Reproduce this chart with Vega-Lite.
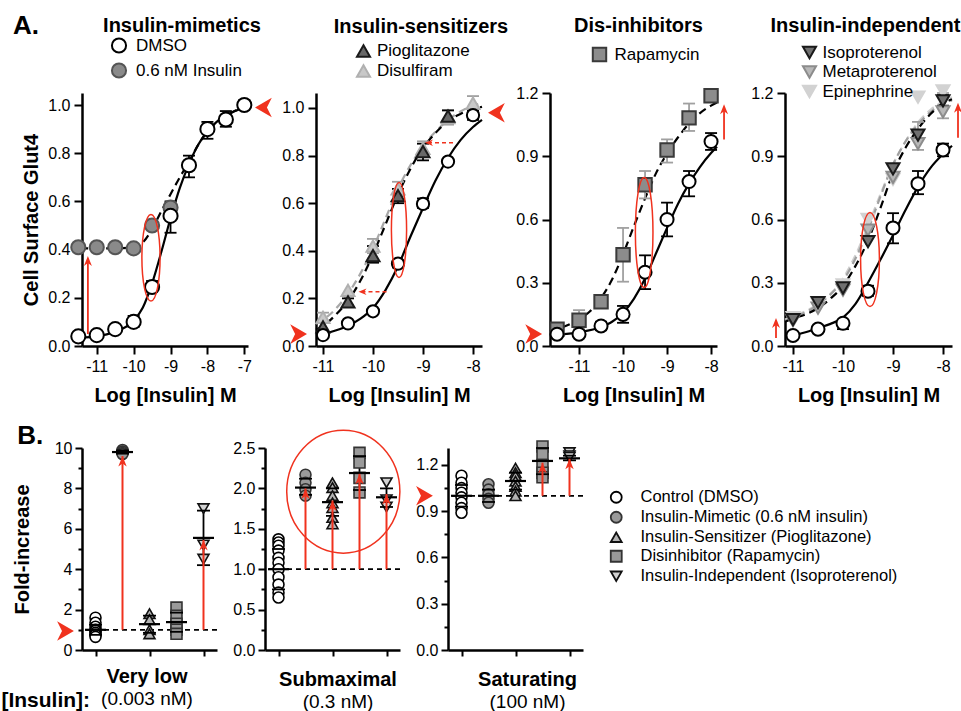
{
"$schema":"https://vega.github.io/schema/vega-lite/v6.json",
"background":"white",
"padding":{"left":1,"top":12,"right":0,"bottom":0},
"config":{
 "font":"Liberation Sans",
 "view":{"stroke":null},
 "axis":{"domainColor":"black","domainWidth":2.5,"tickColor":"black","tickWidth":2,"tickSize":8,"labelColor":"black","labelFont":"Liberation Sans","labelFontSize":16,"labelPadding":4,"titleFont":"Liberation Sans","titleFontSize":20,"titleFontWeight":"bold","titleColor":"black","grid":false},
 "title":{"font":"Liberation Sans","fontSize":20,"fontWeight":"bold","color":"black","subtitleFont":"Liberation Sans","subtitleFontSize":19,"subtitleColor":"black","subtitleFontWeight":"normal"},
 "legend":{"labelFont":"Liberation Sans","labelColor":"black","labelLimit":400}
},
"datasets":{
 "pts":[
  {"p":"A1","s":"0.6 nM Insulin","x":-11.5,"y":0.41},
  {"p":"A1","s":"0.6 nM Insulin","x":-11,"y":0.41},
  {"p":"A1","s":"0.6 nM Insulin","x":-10.5,"y":0.41},
  {"p":"A1","s":"0.6 nM Insulin","x":-10,"y":0.405},
  {"p":"A1","s":"0.6 nM Insulin","x":-9.5,"y":0.5},
  {"p":"A1","s":"0.6 nM Insulin","x":-9,"y":0.575},
  {"p":"A1","s":"DMSO","x":-11.5,"y":0.04},
  {"p":"A1","s":"DMSO","x":-11,"y":0.045},
  {"p":"A1","s":"DMSO","x":-10.5,"y":0.07},
  {"p":"A1","s":"DMSO","x":-10,"y":0.1,"lo":0.08,"hi":0.125},
  {"p":"A1","s":"DMSO","x":-9.5,"y":0.245,"lo":0.23,"hi":0.27},
  {"p":"A1","s":"DMSO","x":-9,"y":0.54,"lo":0.47,"hi":0.6},
  {"p":"A1","s":"DMSO","x":-8.5,"y":0.75,"lo":0.7,"hi":0.79},
  {"p":"A1","s":"DMSO","x":-8,"y":0.9,"lo":0.86,"hi":0.93},
  {"p":"A1","s":"DMSO","x":-7.5,"y":0.94,"lo":0.91,"hi":0.975},
  {"p":"A1","s":"DMSO","x":-7,"y":1.0,"lo":0.99,"hi":1.02},
  {"p":"A2","s":"Disulfiram","x":-11,"y":0.12,"lo":0.1,"hi":0.14},
  {"p":"A2","s":"Disulfiram","x":-10.5,"y":0.234},
  {"p":"A2","s":"Disulfiram","x":-10,"y":0.42,"lo":0.39,"hi":0.45},
  {"p":"A2","s":"Disulfiram","x":-9.5,"y":0.66,"lo":0.63,"hi":0.69},
  {"p":"A2","s":"Disulfiram","x":-9,"y":0.83,"lo":0.8,"hi":0.86},
  {"p":"A2","s":"Disulfiram","x":-8.5,"y":0.96,"lo":0.93,"hi":0.99},
  {"p":"A2","s":"Disulfiram","x":-8,"y":1.02,"lo":0.99,"hi":1.05},
  {"p":"A2","s":"Pioglitazone","x":-11,"y":0.08,"lo":0.06,"hi":0.1},
  {"p":"A2","s":"Pioglitazone","x":-10.5,"y":0.185,"lo":0.17,"hi":0.2},
  {"p":"A2","s":"Pioglitazone","x":-10,"y":0.38,"lo":0.35,"hi":0.42},
  {"p":"A2","s":"Pioglitazone","x":-9.5,"y":0.632,"lo":0.6,"hi":0.66},
  {"p":"A2","s":"Pioglitazone","x":-9,"y":0.817,"lo":0.78,"hi":0.85},
  {"p":"A2","s":"Pioglitazone","x":-8.5,"y":0.966,"lo":0.94,"hi":0.99},
  {"p":"A2","s":"DMSO","x":-11,"y":0.046},
  {"p":"A2","s":"DMSO","x":-10.5,"y":0.095},
  {"p":"A2","s":"DMSO","x":-10,"y":0.146},
  {"p":"A2","s":"DMSO","x":-9.5,"y":0.346,"lo":0.33,"hi":0.36},
  {"p":"A2","s":"DMSO","x":-9,"y":0.597,"lo":0.58,"hi":0.62},
  {"p":"A2","s":"DMSO","x":-8.5,"y":0.775},
  {"p":"A2","s":"DMSO","x":-8,"y":0.97,"lo":0.95,"hi":0.99},
  {"p":"A3","s":"Rapamycin","x":-11.5,"y":0.08,"lo":0.07,"hi":0.09},
  {"p":"A3","s":"Rapamycin","x":-11,"y":0.122,"lo":0.08,"hi":0.17},
  {"p":"A3","s":"Rapamycin","x":-10.5,"y":0.21,"lo":0.18,"hi":0.24},
  {"p":"A3","s":"Rapamycin","x":-10,"y":0.433,"lo":0.305,"hi":0.56},
  {"p":"A3","s":"Rapamycin","x":-9.5,"y":0.765,"lo":0.7,"hi":0.83},
  {"p":"A3","s":"Rapamycin","x":-9,"y":0.93,"lo":0.87,"hi":0.98},
  {"p":"A3","s":"Rapamycin","x":-8.5,"y":1.082,"lo":1.02,"hi":1.15},
  {"p":"A3","s":"Rapamycin","x":-8,"y":1.187,"lo":1.17,"hi":1.2},
  {"p":"A3","s":"DMSO","x":-11.5,"y":0.056},
  {"p":"A3","s":"DMSO","x":-11,"y":0.056},
  {"p":"A3","s":"DMSO","x":-10.5,"y":0.095,"lo":0.075,"hi":0.115},
  {"p":"A3","s":"DMSO","x":-10,"y":0.15,"lo":0.11,"hi":0.19},
  {"p":"A3","s":"DMSO","x":-9.5,"y":0.35,"lo":0.27,"hi":0.43},
  {"p":"A3","s":"DMSO","x":-9,"y":0.6,"lo":0.52,"hi":0.68},
  {"p":"A3","s":"DMSO","x":-8.5,"y":0.78,"lo":0.71,"hi":0.83},
  {"p":"A3","s":"DMSO","x":-8,"y":0.97,"lo":0.93,"hi":1.01},
  {"p":"A4","s":"Epinephrine","x":-11,"y":0.135},
  {"p":"A4","s":"Epinephrine","x":-10.5,"y":0.2},
  {"p":"A4","s":"Epinephrine","x":-10,"y":0.29},
  {"p":"A4","s":"Epinephrine","x":-9.5,"y":0.6},
  {"p":"A4","s":"Epinephrine","x":-9,"y":0.79},
  {"p":"A4","s":"Epinephrine","x":-8.5,"y":1.18},
  {"p":"A4","s":"Epinephrine","x":-8,"y":1.21,"lo":1.19,"hi":1.23},
  {"p":"A4","s":"Metaproterenol","x":-11,"y":0.12},
  {"p":"A4","s":"Metaproterenol","x":-10.5,"y":0.18},
  {"p":"A4","s":"Metaproterenol","x":-10,"y":0.265},
  {"p":"A4","s":"Metaproterenol","x":-9.5,"y":0.55},
  {"p":"A4","s":"Metaproterenol","x":-9,"y":0.8},
  {"p":"A4","s":"Metaproterenol","x":-8.5,"y":0.96,"lo":0.93,"hi":1.063},
  {"p":"A4","s":"Metaproterenol","x":-8,"y":1.11,"lo":1.08,"hi":1.2},
  {"p":"A4","s":"Isoproterenol","x":-11,"y":0.125},
  {"p":"A4","s":"Isoproterenol","x":-10.5,"y":0.206},
  {"p":"A4","s":"Isoproterenol","x":-10,"y":0.275},
  {"p":"A4","s":"Isoproterenol","x":-9.5,"y":0.495},
  {"p":"A4","s":"Isoproterenol","x":-9,"y":0.84},
  {"p":"A4","s":"Isoproterenol","x":-8.5,"y":1.0},
  {"p":"A4","s":"Isoproterenol","x":-8,"y":1.163,"lo":1.14,"hi":1.19},
  {"p":"A4","s":"DMSO","x":-11,"y":0.05},
  {"p":"A4","s":"DMSO","x":-10.5,"y":0.08},
  {"p":"A4","s":"DMSO","x":-10,"y":0.108,"lo":0.08,"hi":0.12},
  {"p":"A4","s":"DMSO","x":-9.5,"y":0.26,"lo":0.238,"hi":0.286},
  {"p":"A4","s":"DMSO","x":-9,"y":0.56,"lo":0.487,"hi":0.63},
  {"p":"A4","s":"DMSO","x":-8.5,"y":0.77,"lo":0.72,"hi":0.83},
  {"p":"A4","s":"DMSO","x":-8,"y":0.93,"lo":0.9,"hi":0.96}
 ],
 "curves":[
  {"p":"A1","s":"DMSO","x":-11.45,"y":0.035},{"p":"A1","s":"DMSO","x":-11,"y":0.04},{"p":"A1","s":"DMSO","x":-10.5,"y":0.06},{"p":"A1","s":"DMSO","x":-10,"y":0.105},{"p":"A1","s":"DMSO","x":-9.75,"y":0.16},{"p":"A1","s":"DMSO","x":-9.5,"y":0.26},{"p":"A1","s":"DMSO","x":-9.25,"y":0.39},{"p":"A1","s":"DMSO","x":-9,"y":0.53},{"p":"A1","s":"DMSO","x":-8.75,"y":0.655},{"p":"A1","s":"DMSO","x":-8.5,"y":0.755},{"p":"A1","s":"DMSO","x":-8.25,"y":0.835},{"p":"A1","s":"DMSO","x":-8,"y":0.89},{"p":"A1","s":"DMSO","x":-7.75,"y":0.93},{"p":"A1","s":"DMSO","x":-7.5,"y":0.955},{"p":"A1","s":"DMSO","x":-7.25,"y":0.975},{"p":"A1","s":"DMSO","x":-7,"y":0.99},{"p":"A1","s":"DMSO","x":-6.9,"y":0.993},
  {"p":"A1","s":"0.6 nM Insulin","x":-11.45,"y":0.405},{"p":"A1","s":"0.6 nM Insulin","x":-11,"y":0.405},{"p":"A1","s":"0.6 nM Insulin","x":-10.5,"y":0.405},{"p":"A1","s":"0.6 nM Insulin","x":-10,"y":0.41},{"p":"A1","s":"0.6 nM Insulin","x":-9.75,"y":0.43},{"p":"A1","s":"0.6 nM Insulin","x":-9.5,"y":0.485},{"p":"A1","s":"0.6 nM Insulin","x":-9.25,"y":0.56},{"p":"A1","s":"0.6 nM Insulin","x":-9,"y":0.63},{"p":"A1","s":"0.6 nM Insulin","x":-8.75,"y":0.7},{"p":"A1","s":"0.6 nM Insulin","x":-8.5,"y":0.765},{"p":"A1","s":"0.6 nM Insulin","x":-8.25,"y":0.835},{"p":"A1","s":"0.6 nM Insulin","x":-8,"y":0.89},{"p":"A1","s":"0.6 nM Insulin","x":-7.5,"y":0.955},{"p":"A1","s":"0.6 nM Insulin","x":-7,"y":0.99},{"p":"A1","s":"0.6 nM Insulin","x":-6.9,"y":0.993},
  {"p":"A2","s":"Disulfiram","x":-11.14,"y":0.093},{"p":"A2","s":"Disulfiram","x":-11,"y":0.11},{"p":"A2","s":"Disulfiram","x":-10.75,"y":0.155},{"p":"A2","s":"Disulfiram","x":-10.5,"y":0.22},{"p":"A2","s":"Disulfiram","x":-10.25,"y":0.305},{"p":"A2","s":"Disulfiram","x":-10,"y":0.41},{"p":"A2","s":"Disulfiram","x":-9.75,"y":0.535},{"p":"A2","s":"Disulfiram","x":-9.5,"y":0.66},{"p":"A2","s":"Disulfiram","x":-9.25,"y":0.76},{"p":"A2","s":"Disulfiram","x":-9,"y":0.84},{"p":"A2","s":"Disulfiram","x":-8.75,"y":0.9},{"p":"A2","s":"Disulfiram","x":-8.5,"y":0.95},{"p":"A2","s":"Disulfiram","x":-8.25,"y":0.985},{"p":"A2","s":"Disulfiram","x":-8,"y":1.01},{"p":"A2","s":"Disulfiram","x":-7.82,"y":1.02},
  {"p":"A2","s":"Pioglitazone","x":-11.14,"y":0.068},{"p":"A2","s":"Pioglitazone","x":-11,"y":0.084},{"p":"A2","s":"Pioglitazone","x":-10.75,"y":0.13},{"p":"A2","s":"Pioglitazone","x":-10.5,"y":0.19},{"p":"A2","s":"Pioglitazone","x":-10.25,"y":0.275},{"p":"A2","s":"Pioglitazone","x":-10,"y":0.385},{"p":"A2","s":"Pioglitazone","x":-9.75,"y":0.51},{"p":"A2","s":"Pioglitazone","x":-9.5,"y":0.637},{"p":"A2","s":"Pioglitazone","x":-9.25,"y":0.745},{"p":"A2","s":"Pioglitazone","x":-9,"y":0.833},{"p":"A2","s":"Pioglitazone","x":-8.75,"y":0.895},{"p":"A2","s":"Pioglitazone","x":-8.5,"y":0.945},{"p":"A2","s":"Pioglitazone","x":-8.25,"y":0.975},{"p":"A2","s":"Pioglitazone","x":-8,"y":0.995},{"p":"A2","s":"Pioglitazone","x":-7.82,"y":1.005},
  {"p":"A2","s":"DMSO","x":-11.14,"y":0.045},{"p":"A2","s":"DMSO","x":-11,"y":0.05},{"p":"A2","s":"DMSO","x":-10.75,"y":0.065},{"p":"A2","s":"DMSO","x":-10.5,"y":0.085},{"p":"A2","s":"DMSO","x":-10.25,"y":0.115},{"p":"A2","s":"DMSO","x":-10,"y":0.16},{"p":"A2","s":"DMSO","x":-9.75,"y":0.235},{"p":"A2","s":"DMSO","x":-9.5,"y":0.335},{"p":"A2","s":"DMSO","x":-9.25,"y":0.46},{"p":"A2","s":"DMSO","x":-9,"y":0.58},{"p":"A2","s":"DMSO","x":-8.75,"y":0.695},{"p":"A2","s":"DMSO","x":-8.5,"y":0.79},{"p":"A2","s":"DMSO","x":-8.25,"y":0.865},{"p":"A2","s":"DMSO","x":-8,"y":0.92},{"p":"A2","s":"DMSO","x":-7.82,"y":0.95},
  {"p":"A3","s":"DMSO","x":-11.66,"y":0.05},{"p":"A3","s":"DMSO","x":-11.5,"y":0.053},{"p":"A3","s":"DMSO","x":-11,"y":0.065},{"p":"A3","s":"DMSO","x":-10.5,"y":0.09},{"p":"A3","s":"DMSO","x":-10.25,"y":0.115},{"p":"A3","s":"DMSO","x":-10,"y":0.157},{"p":"A3","s":"DMSO","x":-9.75,"y":0.225},{"p":"A3","s":"DMSO","x":-9.5,"y":0.32},{"p":"A3","s":"DMSO","x":-9.25,"y":0.44},{"p":"A3","s":"DMSO","x":-9,"y":0.56},{"p":"A3","s":"DMSO","x":-8.75,"y":0.675},{"p":"A3","s":"DMSO","x":-8.5,"y":0.77},{"p":"A3","s":"DMSO","x":-8.25,"y":0.85},{"p":"A3","s":"DMSO","x":-8,"y":0.915},{"p":"A3","s":"DMSO","x":-7.865,"y":0.945},
  {"p":"A3","s":"Rapamycin","x":-11.66,"y":0.07},{"p":"A3","s":"Rapamycin","x":-11.5,"y":0.08},{"p":"A3","s":"Rapamycin","x":-11,"y":0.127},{"p":"A3","s":"Rapamycin","x":-10.75,"y":0.165},{"p":"A3","s":"Rapamycin","x":-10.5,"y":0.228},{"p":"A3","s":"Rapamycin","x":-10.25,"y":0.315},{"p":"A3","s":"Rapamycin","x":-10,"y":0.435},{"p":"A3","s":"Rapamycin","x":-9.75,"y":0.57},{"p":"A3","s":"Rapamycin","x":-9.5,"y":0.7},{"p":"A3","s":"Rapamycin","x":-9.25,"y":0.82},{"p":"A3","s":"Rapamycin","x":-9,"y":0.913},{"p":"A3","s":"Rapamycin","x":-8.75,"y":0.99},{"p":"A3","s":"Rapamycin","x":-8.5,"y":1.055},{"p":"A3","s":"Rapamycin","x":-8.25,"y":1.105},{"p":"A3","s":"Rapamycin","x":-8,"y":1.14},{"p":"A3","s":"Rapamycin","x":-7.865,"y":1.155},
  {"p":"A4","s":"Epinephrine","x":-11.16,"y":0.125},{"p":"A4","s":"Epinephrine","x":-11,"y":0.14},{"p":"A4","s":"Epinephrine","x":-10.5,"y":0.2},{"p":"A4","s":"Epinephrine","x":-10,"y":0.32},{"p":"A4","s":"Epinephrine","x":-9.75,"y":0.43},{"p":"A4","s":"Epinephrine","x":-9.5,"y":0.57},{"p":"A4","s":"Epinephrine","x":-9.25,"y":0.72},{"p":"A4","s":"Epinephrine","x":-9,"y":0.86},{"p":"A4","s":"Epinephrine","x":-8.75,"y":0.97},{"p":"A4","s":"Epinephrine","x":-8.5,"y":1.06},{"p":"A4","s":"Epinephrine","x":-8.25,"y":1.12},{"p":"A4","s":"Epinephrine","x":-8,"y":1.16},{"p":"A4","s":"Epinephrine","x":-7.82,"y":1.18},
  {"p":"A4","s":"Metaproterenol","x":-11.16,"y":0.12},{"p":"A4","s":"Metaproterenol","x":-11,"y":0.135},{"p":"A4","s":"Metaproterenol","x":-10.75,"y":0.16},{"p":"A4","s":"Metaproterenol","x":-10.5,"y":0.195},{"p":"A4","s":"Metaproterenol","x":-10.25,"y":0.245},{"p":"A4","s":"Metaproterenol","x":-10,"y":0.31},{"p":"A4","s":"Metaproterenol","x":-9.75,"y":0.415},{"p":"A4","s":"Metaproterenol","x":-9.5,"y":0.55},{"p":"A4","s":"Metaproterenol","x":-9.25,"y":0.71},{"p":"A4","s":"Metaproterenol","x":-9,"y":0.86},{"p":"A4","s":"Metaproterenol","x":-8.75,"y":0.97},{"p":"A4","s":"Metaproterenol","x":-8.5,"y":1.05},{"p":"A4","s":"Metaproterenol","x":-8.25,"y":1.11},{"p":"A4","s":"Metaproterenol","x":-8,"y":1.15},{"p":"A4","s":"Metaproterenol","x":-7.82,"y":1.165},
  {"p":"A4","s":"Isoproterenol","x":-11.16,"y":0.115},{"p":"A4","s":"Isoproterenol","x":-11,"y":0.13},{"p":"A4","s":"Isoproterenol","x":-10.75,"y":0.15},{"p":"A4","s":"Isoproterenol","x":-10.5,"y":0.18},{"p":"A4","s":"Isoproterenol","x":-10.25,"y":0.225},{"p":"A4","s":"Isoproterenol","x":-10,"y":0.285},{"p":"A4","s":"Isoproterenol","x":-9.75,"y":0.38},{"p":"A4","s":"Isoproterenol","x":-9.5,"y":0.5},{"p":"A4","s":"Isoproterenol","x":-9.25,"y":0.655},{"p":"A4","s":"Isoproterenol","x":-9,"y":0.82},{"p":"A4","s":"Isoproterenol","x":-8.75,"y":0.94},{"p":"A4","s":"Isoproterenol","x":-8.5,"y":1.03},{"p":"A4","s":"Isoproterenol","x":-8.25,"y":1.1},{"p":"A4","s":"Isoproterenol","x":-8,"y":1.15},{"p":"A4","s":"Isoproterenol","x":-7.82,"y":1.17},
  {"p":"A4","s":"DMSO","x":-11.16,"y":0.045},{"p":"A4","s":"DMSO","x":-11,"y":0.05},{"p":"A4","s":"DMSO","x":-10.75,"y":0.065},{"p":"A4","s":"DMSO","x":-10.5,"y":0.085},{"p":"A4","s":"DMSO","x":-10.25,"y":0.105},{"p":"A4","s":"DMSO","x":-10,"y":0.135},{"p":"A4","s":"DMSO","x":-9.75,"y":0.2},{"p":"A4","s":"DMSO","x":-9.5,"y":0.3},{"p":"A4","s":"DMSO","x":-9.25,"y":0.41},{"p":"A4","s":"DMSO","x":-9,"y":0.525},{"p":"A4","s":"DMSO","x":-8.75,"y":0.645},{"p":"A4","s":"DMSO","x":-8.5,"y":0.755},{"p":"A4","s":"DMSO","x":-8.25,"y":0.845},{"p":"A4","s":"DMSO","x":-8,"y":0.91},{"p":"A4","s":"DMSO","x":-7.82,"y":0.95}
 ],
 "bpts":[
  {"p":"B1","x":1,"grp":"Control (DMSO)","y":1.6},{"p":"B1","x":1,"grp":"Control (DMSO)","y":1.35},{"p":"B1","x":1,"grp":"Control (DMSO)","y":1.15},{"p":"B1","x":1,"grp":"Control (DMSO)","y":1.0},{"p":"B1","x":1,"grp":"Control (DMSO)","y":0.95},{"p":"B1","x":1,"grp":"Control (DMSO)","y":0.85},{"p":"B1","x":1,"grp":"Control (DMSO)","y":0.75},{"p":"B1","x":1,"grp":"Control (DMSO)","y":0.65},
  {"p":"B1","x":2,"grp":"Insulin-Mimetic  (0.6 nM  insulin)","y":9.9},{"p":"B1","x":2,"grp":"Insulin-Mimetic  (0.6 nM  insulin)","y":9.82},{"p":"B1","x":2,"grp":"Insulin-Mimetic  (0.6 nM  insulin)","y":9.75},{"p":"B1","x":2,"grp":"Insulin-Mimetic  (0.6 nM  insulin)","y":9.7},
  {"p":"B1","x":3,"grp":"Insulin-Sensitizer (Pioglitazone)","y":1.8},{"p":"B1","x":3,"grp":"Insulin-Sensitizer (Pioglitazone)","y":1.5},{"p":"B1","x":3,"grp":"Insulin-Sensitizer (Pioglitazone)","y":1.0},{"p":"B1","x":3,"grp":"Insulin-Sensitizer (Pioglitazone)","y":0.8},
  {"p":"B1","x":4,"grp":"Disinhibitor (Rapamycin)","y":2.1},{"p":"B1","x":4,"grp":"Disinhibitor (Rapamycin)","y":1.7},{"p":"B1","x":4,"grp":"Disinhibitor (Rapamycin)","y":1.3},{"p":"B1","x":4,"grp":"Disinhibitor (Rapamycin)","y":1.0},{"p":"B1","x":4,"grp":"Disinhibitor (Rapamycin)","y":0.8},
  {"p":"B1","x":5,"grp":"Insulin-Independent (Isoproterenol)","y":7.0},{"p":"B1","x":5,"grp":"Insulin-Independent (Isoproterenol)","y":5.2},{"p":"B1","x":5,"grp":"Insulin-Independent (Isoproterenol)","y":4.5},
  {"p":"B2","x":1,"grp":"Control (DMSO)","y":1.37},{"p":"B2","x":1,"grp":"Control (DMSO)","y":1.33},{"p":"B2","x":1,"grp":"Control (DMSO)","y":1.29},{"p":"B2","x":1,"grp":"Control (DMSO)","y":1.23},{"p":"B2","x":1,"grp":"Control (DMSO)","y":1.14},{"p":"B2","x":1,"grp":"Control (DMSO)","y":1.08},{"p":"B2","x":1,"grp":"Control (DMSO)","y":1.0},{"p":"B2","x":1,"grp":"Control (DMSO)","y":0.9},{"p":"B2","x":1,"grp":"Control (DMSO)","y":0.81},{"p":"B2","x":1,"grp":"Control (DMSO)","y":0.71},{"p":"B2","x":1,"grp":"Control (DMSO)","y":0.65},
  {"p":"B2","x":2,"grp":"Insulin-Mimetic  (0.6 nM  insulin)","y":2.17},{"p":"B2","x":2,"grp":"Insulin-Mimetic  (0.6 nM  insulin)","y":2.07},{"p":"B2","x":2,"grp":"Insulin-Mimetic  (0.6 nM  insulin)","y":1.99},{"p":"B2","x":2,"grp":"Insulin-Mimetic  (0.6 nM  insulin)","y":1.91},
  {"p":"B2","x":3,"grp":"Insulin-Sensitizer (Pioglitazone)","y":2.07},{"p":"B2","x":3,"grp":"Insulin-Sensitizer (Pioglitazone)","y":2.01},{"p":"B2","x":3,"grp":"Insulin-Sensitizer (Pioglitazone)","y":1.91},{"p":"B2","x":3,"grp":"Insulin-Sensitizer (Pioglitazone)","y":1.82},{"p":"B2","x":3,"grp":"Insulin-Sensitizer (Pioglitazone)","y":1.76},{"p":"B2","x":3,"grp":"Insulin-Sensitizer (Pioglitazone)","y":1.64},{"p":"B2","x":3,"grp":"Insulin-Sensitizer (Pioglitazone)","y":1.56},
  {"p":"B2","x":4,"grp":"Disinhibitor (Rapamycin)","y":2.44},{"p":"B2","x":4,"grp":"Disinhibitor (Rapamycin)","y":2.32},{"p":"B2","x":4,"grp":"Disinhibitor (Rapamycin)","y":2.13},{"p":"B2","x":4,"grp":"Disinhibitor (Rapamycin)","y":1.95},
  {"p":"B2","x":5,"grp":"Insulin-Independent (Isoproterenol)","y":2.07},{"p":"B2","x":5,"grp":"Insulin-Independent (Isoproterenol)","y":1.86},{"p":"B2","x":5,"grp":"Insulin-Independent (Isoproterenol)","y":1.77},
  {"p":"B3","x":1,"grp":"Control (DMSO)","y":1.13},{"p":"B3","x":1,"grp":"Control (DMSO)","y":1.085},{"p":"B3","x":1,"grp":"Control (DMSO)","y":1.05},{"p":"B3","x":1,"grp":"Control (DMSO)","y":1.02},{"p":"B3","x":1,"grp":"Control (DMSO)","y":0.99},{"p":"B3","x":1,"grp":"Control (DMSO)","y":0.955},{"p":"B3","x":1,"grp":"Control (DMSO)","y":0.92},{"p":"B3","x":1,"grp":"Control (DMSO)","y":0.89},
  {"p":"B3","x":2,"grp":"Insulin-Mimetic  (0.6 nM  insulin)","y":1.075},{"p":"B3","x":2,"grp":"Insulin-Mimetic  (0.6 nM  insulin)","y":1.04},{"p":"B3","x":2,"grp":"Insulin-Mimetic  (0.6 nM  insulin)","y":1.01},{"p":"B3","x":2,"grp":"Insulin-Mimetic  (0.6 nM  insulin)","y":0.98},{"p":"B3","x":2,"grp":"Insulin-Mimetic  (0.6 nM  insulin)","y":0.955},
  {"p":"B3","x":3,"grp":"Insulin-Sensitizer (Pioglitazone)","y":1.18},{"p":"B3","x":3,"grp":"Insulin-Sensitizer (Pioglitazone)","y":1.15},{"p":"B3","x":3,"grp":"Insulin-Sensitizer (Pioglitazone)","y":1.13},{"p":"B3","x":3,"grp":"Insulin-Sensitizer (Pioglitazone)","y":1.095},{"p":"B3","x":3,"grp":"Insulin-Sensitizer (Pioglitazone)","y":1.06},{"p":"B3","x":3,"grp":"Insulin-Sensitizer (Pioglitazone)","y":1.03},{"p":"B3","x":3,"grp":"Insulin-Sensitizer (Pioglitazone)","y":1.0},
  {"p":"B3","x":4,"grp":"Disinhibitor (Rapamycin)","y":1.32},{"p":"B3","x":4,"grp":"Disinhibitor (Rapamycin)","y":1.27},{"p":"B3","x":4,"grp":"Disinhibitor (Rapamycin)","y":1.2},{"p":"B3","x":4,"grp":"Disinhibitor (Rapamycin)","y":1.15},{"p":"B3","x":4,"grp":"Disinhibitor (Rapamycin)","y":1.12},
  {"p":"B3","x":5,"grp":"Insulin-Independent (Isoproterenol)","y":1.28},{"p":"B3","x":5,"grp":"Insulin-Independent (Isoproterenol)","y":1.26},{"p":"B3","x":5,"grp":"Insulin-Independent (Isoproterenol)","y":1.25}
 ],
 "bsum":[
  {"p":"B1","x":1,"mean":1.0,"lo":0.75,"hi":1.25},{"p":"B1","x":2,"mean":9.8,"lo":9.72,"hi":9.88},{"p":"B1","x":3,"mean":1.28,"lo":0.85,"hi":1.7},{"p":"B1","x":4,"mean":1.38,"lo":0.9,"hi":1.85},{"p":"B1","x":5,"mean":5.55,"lo":4.2,"hi":6.9},
  {"p":"B2","x":1,"mean":1.0,"lo":0.75,"hi":1.25},{"p":"B2","x":2,"mean":2.01,"lo":1.92,"hi":2.12},{"p":"B2","x":3,"mean":1.83,"lo":1.66,"hi":2.0},{"p":"B2","x":4,"mean":2.19,"lo":1.98,"hi":2.4},{"p":"B2","x":5,"mean":1.89,"lo":1.77,"hi":2.0},
  {"p":"B3","x":1,"mean":1.0,"lo":0.93,"hi":1.07},{"p":"B3","x":2,"mean":1.0,"lo":0.96,"hi":1.04},{"p":"B3","x":3,"mean":1.096,"lo":1.04,"hi":1.15},{"p":"B3","x":4,"mean":1.226,"lo":1.14,"hi":1.31},{"p":"B3","x":5,"mean":1.243,"lo":1.23,"hi":1.26}
 ],
 "barrows":[
  {"p":"B1","x":2,"y":1,"y2":9.6},{"p":"B1","x":5,"y":1,"y2":5.45},
  {"p":"B2","x":2,"y":1,"y2":2.0},{"p":"B2","x":3,"y":1,"y2":1.85},{"p":"B2","x":4,"y":1,"y2":2.18},{"p":"B2","x":5,"y":1,"y2":1.93},
  {"p":"B3","x":4,"y":1,"y2":1.215},{"p":"B3","x":5,"y":1,"y2":1.24}
 ]
},
"spacing":355,
"bounds":"flush",
"resolve":{"scale":{"shape":"independent","fill":"independent","stroke":"independent","color":"independent"},"legend":{"shape":"independent","fill":"independent","stroke":"independent","color":"independent"}},
"vconcat":[
{"spacing":68,"bounds":"flush",
 "resolve":{"scale":{"shape":"independent","fill":"independent","stroke":"independent","color":"independent"},"legend":{"shape":"independent","fill":"independent","stroke":"independent","color":"independent"}},
 "hconcat":[
 {"width":166,"height":253,
  "title":{"text":"Insulin-mimetics","frame":"group","dx":17,"offset":-23},
  "encoding":{
   "x":{"field":"x","type":"quantitative","scale":{"domain":[-11.4,-6.9],"nice":false,"zero":false},"axis":{"values":[-11,-10,-9,-8,-7],"labelExpr":"'-' + abs(datum.value)","title":"Log [Insulin] M","titlePadding":11}},
   "y":{"field":"y","type":"quantitative","scale":{"domain":[0,1.05],"nice":false,"zero":false},"axis":{"values":[0,0.2,0.4,0.6,0.8,1],"format":".1f","title":"Cell Surface Glut4","titlePadding":6}}
  },
  "layer":[
   {"data":{"name":"curves"},"transform":[{"filter":"datum.p=='A1' && datum.s!='DMSO'"}],"mark":{"type":"line","color":"black","strokeWidth":2.2,"strokeDash":[8,5],"interpolate":"monotone"},"encoding":{"detail":{"field":"s"}}},
   {"data":{"name":"curves"},"transform":[{"filter":"datum.p=='A1' && datum.s=='DMSO'"}],"mark":{"type":"line","color":"black","strokeWidth":2.2,"interpolate":"monotone"},"encoding":{}},
   {"data":{"name":"pts"},"transform":[{"filter":"datum.p=='A1' && isValid(datum.lo)"}],"mark":{"type":"rule","color":"black","strokeWidth":1.8},"encoding":{"y":{"field":"lo","type":"quantitative"},"y2":{"field":"hi"}}},
   {"data":{"name":"pts"},"transform":[{"filter":"datum.p=='A1' && isValid(datum.lo)"}],"mark":{"type":"point","shape":"M-1,0L1,0","size":144,"filled":false,"color":"black","strokeWidth":1.8,"opacity":1},"encoding":{"y":{"field":"lo","type":"quantitative"}}},
   {"data":{"name":"pts"},"transform":[{"filter":"datum.p=='A1' && isValid(datum.lo)"}],"mark":{"type":"point","shape":"M-1,0L1,0","size":144,"filled":false,"color":"black","strokeWidth":1.8,"opacity":1},"encoding":{"y":{"field":"hi","type":"quantitative"}}},
   {"data":{"name":"pts"},"transform":[{"filter":"datum.p=='A1'"}],"mark":{"type":"point","filled":true,"size":200,"strokeWidth":2,"opacity":1},
    "encoding":{
     "shape":{"field":"s","type":"nominal","scale":{"domain":["DMSO","0.6 nM Insulin"],"range":["circle","circle"]},"legend":{"title":null,"orient":"none","legendX":28.5,"legendY":-56,"labelFontSize":17,"symbolSize":200,"symbolStrokeWidth":2,"rowPadding":2,"labelOffset":8.5,"padding":0}},
     "fill":{"field":"s","type":"nominal","scale":{"domain":["DMSO","0.6 nM Insulin"],"range":["white","#8a8a8a"]},"legend":{"title":null,"orient":"none","legendX":28.5,"legendY":-56,"labelFontSize":17,"symbolSize":200,"symbolStrokeWidth":2,"rowPadding":2,"labelOffset":8.5,"padding":0}},
     "stroke":{"field":"s","type":"nominal","scale":{"domain":["DMSO","0.6 nM Insulin"],"range":["black","#555555"]},"legend":{"title":null,"orient":"none","legendX":28.5,"legendY":-56,"labelFontSize":17,"symbolSize":200,"symbolStrokeWidth":2,"rowPadding":2,"labelOffset":8.5,"padding":0}}
    }},
   {"data":{"values":[{"x":-9.53,"y":0.366}]},"mark":{"type":"point","shape":"M0,-1C0.116,-1 0.21,-0.552 0.21,0C0.21,0.552 0.116,1 0,1C-0.116,1 -0.21,0.552 -0.21,0C-0.21,-0.552 -0.116,-1 0,-1Z","size":7500,"filled":false,"color":"#f0321e","strokeWidth":1.5,"opacity":1},"encoding":{}},
   {"data":{"values":[{"x":-11.24,"y":0.05,"y2":0.36}]},"mark":{"type":"rule","color":"#f0321e","strokeWidth":1.8},"encoding":{"y2":{"field":"y2"}}},
   {"data":{"values":[{"x":-11.24,"y":0.373}]},"mark":{"type":"point","shape":"M0,0L-0.8,2L0,1.4L0.8,2Z","size":100,"filled":true,"color":"#f0321e","strokeWidth":0,"opacity":1},"encoding":{}},
   {"data":{"values":[{"x":-6.71,"y":0.99}]},"mark":{"type":"point","shape":"M0,0L2.4,-1.4L1.7,0L2.4,1.4Z","size":196,"filled":true,"color":"#f0321e","strokeWidth":0,"opacity":1},"encoding":{}},
   {"data":{"values":[{"x":-13.27,"y":1.295,"t":"A."}]},"mark":{"type":"text","fontSize":26,"fontWeight":"bold","align":"left","baseline":"alphabetic","color":"black"},"encoding":{"text":{"field":"t"}}}
  ]},
 {"width":166,"height":253,
  "title":{"text":"Insulin-sensitizers","frame":"group","dx":22,"offset":6},
  "encoding":{
   "x":{"field":"x","type":"quantitative","scale":{"domain":[-11.14,-7.82],"nice":false,"zero":false},"axis":{"values":[-11,-10,-9,-8],"labelExpr":"'-' + abs(datum.value)","title":"Log [Insulin] M","titlePadding":11}},
   "y":{"field":"y","type":"quantitative","scale":{"domain":[0,1.063],"nice":false,"zero":false},"axis":{"values":[0,0.2,0.4,0.6,0.8,1],"format":".1f","title":null}}
  },
  "layer":[
   {"data":{"name":"curves"},"transform":[{"filter":"datum.p=='A2' && datum.s!='DMSO'"}],"mark":{"type":"line","strokeWidth":2.2,"strokeDash":[8,5],"interpolate":"monotone"},"encoding":{"detail":{"field":"s"},"color":{"condition":{"test":"datum.s=='Disulfiram'","value":"#a8a8a8"},"value":"black"}}},
   {"data":{"name":"curves"},"transform":[{"filter":"datum.p=='A2' && datum.s=='DMSO'"}],"mark":{"type":"line","color":"black","strokeWidth":2.2,"interpolate":"monotone"},"encoding":{}},
   {"data":{"name":"pts"},"transform":[{"filter":"datum.p=='A2' && isValid(datum.lo)"}],"mark":{"type":"rule","strokeWidth":1.8},"encoding":{"y":{"field":"lo","type":"quantitative"},"y2":{"field":"hi"},"color":{"condition":{"test":"datum.s=='Disulfiram'","value":"#a0a0a0"},"value":"black"}}},
   {"data":{"name":"pts"},"transform":[{"filter":"datum.p=='A2' && isValid(datum.lo)"}],"mark":{"type":"point","shape":"M-1,0L1,0","size":144,"filled":false,"strokeWidth":1.8,"opacity":1},"encoding":{"y":{"field":"lo","type":"quantitative"},"color":{"condition":{"test":"datum.s=='Disulfiram'","value":"#a0a0a0"},"value":"black"}}},
   {"data":{"name":"pts"},"transform":[{"filter":"datum.p=='A2' && isValid(datum.lo)"}],"mark":{"type":"point","shape":"M-1,0L1,0","size":144,"filled":false,"strokeWidth":1.8,"opacity":1},"encoding":{"y":{"field":"hi","type":"quantitative"},"color":{"condition":{"test":"datum.s=='Disulfiram'","value":"#a0a0a0"},"value":"black"}}},
   {"data":{"name":"pts"},"transform":[{"filter":"datum.p=='A2' && datum.s!='DMSO'"}],"mark":{"type":"point","filled":true,"size":170,"strokeWidth":2,"opacity":1},
    "encoding":{
     "shape":{"field":"s","type":"nominal","scale":{"domain":["Pioglitazone","Disulfiram"],"range":["triangle-up","triangle-up"]},"legend":{"title":null,"orient":"none","legendX":39,"legendY":-50.5,"labelFontSize":17,"symbolSize":170,"symbolStrokeWidth":2,"rowPadding":-1,"labelOffset":5,"padding":0}},
     "fill":{"field":"s","type":"nominal","scale":{"domain":["Pioglitazone","Disulfiram"],"range":["#686868","#c8c8c8"]},"legend":{"title":null,"orient":"none","legendX":39,"legendY":-50.5,"labelFontSize":17,"symbolSize":170,"symbolStrokeWidth":2,"rowPadding":-1,"labelOffset":5,"padding":0}},
     "stroke":{"field":"s","type":"nominal","scale":{"domain":["Pioglitazone","Disulfiram"],"range":["#1a1a1a","#b0b0b0"]},"legend":{"title":null,"orient":"none","legendX":39,"legendY":-50.5,"labelFontSize":17,"symbolSize":170,"symbolStrokeWidth":2,"rowPadding":-1,"labelOffset":5,"padding":0}}
    }},
   {"data":{"name":"pts"},"transform":[{"filter":"datum.p=='A2' && datum.s=='DMSO'"}],"mark":{"type":"point","shape":"circle","filled":true,"fill":"white","stroke":"black","size":150,"strokeWidth":2,"opacity":1},"encoding":{}},
   {"data":{"values":[{"x":-9.48,"y":0.487}]},"mark":{"type":"point","shape":"M0,-1C0.088,-1 0.16,-0.552 0.16,0C0.16,0.552 0.088,1 0,1C-0.088,1 -0.16,0.552 -0.16,0C-0.16,-0.552 -0.088,-1 0,-1Z","size":9025,"filled":false,"color":"#f0321e","strokeWidth":1.5,"opacity":1},"encoding":{}},
   {"data":{"values":[{"x":-8.4,"x2":-8.9,"y":0.854},{"x":-9.73,"x2":-10.23,"y":0.228}]},"mark":{"type":"rule","color":"#f0321e","strokeWidth":1.6,"strokeDash":[4,3]},"encoding":{"x2":{"field":"x2"}}},
   {"data":{"values":[{"x":-8.96,"y":0.854},{"x":-10.29,"y":0.228}]},"mark":{"type":"point","shape":"M0,0L2,-0.8L1.4,0L2,0.8Z","size":64,"filled":true,"color":"#f0321e","strokeWidth":0,"opacity":1},"encoding":{}},
   {"data":{"values":[{"x":-11.32,"y":0.05}]},"mark":{"type":"point","shape":"M0,0L-2.4,-1.4L-1.7,0L-2.4,1.4Z","size":196,"filled":true,"color":"#f0321e","strokeWidth":0,"opacity":1},"encoding":{}},
   {"data":{"values":[{"x":-7.7,"y":0.98}]},"mark":{"type":"point","shape":"M0,0L2.4,-1.4L1.7,0L2.4,1.4Z","size":196,"filled":true,"color":"#f0321e","strokeWidth":0,"opacity":1},"encoding":{}}
  ]},
 {"width":167,"height":253,
  "title":{"text":"Dis-inhibitors","frame":"group","dx":5,"offset":10},
  "encoding":{
   "x":{"field":"x","type":"quantitative","scale":{"domain":[-11.66,-7.865],"nice":false,"zero":false},"axis":{"values":[-11,-10,-9,-8],"labelExpr":"'-' + abs(datum.value)","title":"Log [Insulin] M","titlePadding":11}},
   "y":{"field":"y","type":"quantitative","scale":{"domain":[0,1.2],"nice":false,"zero":false},"axis":{"values":[0,0.3,0.6,0.9,1.2],"format":".1f","title":null}}
  },
  "layer":[
   {"data":{"name":"curves"},"transform":[{"filter":"datum.p=='A3' && datum.s!='DMSO'"}],"mark":{"type":"line","color":"black","strokeWidth":2.2,"strokeDash":[8,5],"interpolate":"monotone"},"encoding":{"detail":{"field":"s"}}},
   {"data":{"name":"curves"},"transform":[{"filter":"datum.p=='A3' && datum.s=='DMSO'"}],"mark":{"type":"line","color":"black","strokeWidth":2.2,"interpolate":"monotone"},"encoding":{}},
   {"data":{"name":"pts"},"transform":[{"filter":"datum.p=='A3' && isValid(datum.lo)"}],"mark":{"type":"rule","strokeWidth":1.8},"encoding":{"y":{"field":"lo","type":"quantitative"},"y2":{"field":"hi"},"color":{"condition":{"test":"datum.s=='Rapamycin'","value":"#a0a0a0"},"value":"black"}}},
   {"data":{"name":"pts"},"transform":[{"filter":"datum.p=='A3' && isValid(datum.lo)"}],"mark":{"type":"point","shape":"M-1,0L1,0","size":144,"filled":false,"strokeWidth":1.8,"opacity":1},"encoding":{"y":{"field":"lo","type":"quantitative"},"color":{"condition":{"test":"datum.s=='Rapamycin'","value":"#a0a0a0"},"value":"black"}}},
   {"data":{"name":"pts"},"transform":[{"filter":"datum.p=='A3' && isValid(datum.lo)"}],"mark":{"type":"point","shape":"M-1,0L1,0","size":144,"filled":false,"strokeWidth":1.8,"opacity":1},"encoding":{"y":{"field":"hi","type":"quantitative"},"color":{"condition":{"test":"datum.s=='Rapamycin'","value":"#a0a0a0"},"value":"black"}}},
   {"data":{"name":"pts"},"transform":[{"filter":"datum.p=='A3' && datum.s!='DMSO'"}],"mark":{"type":"point","filled":true,"size":180,"strokeWidth":2,"opacity":1},
    "encoding":{
     "shape":{"field":"s","type":"nominal","scale":{"domain":["Rapamycin"],"range":["square"]},"legend":{"title":null,"orient":"none","legendX":41,"legendY":-47,"labelFontSize":17,"symbolSize":180,"symbolStrokeWidth":2,"rowPadding":3,"labelOffset":6.5,"padding":0}},
     "fill":{"field":"s","type":"nominal","scale":{"domain":["Rapamycin"],"range":["#8c8c8c"]},"legend":{"title":null,"orient":"none","legendX":41,"legendY":-47,"labelFontSize":17,"symbolSize":180,"symbolStrokeWidth":2,"rowPadding":3,"labelOffset":6.5,"padding":0}},
     "stroke":{"field":"s","type":"nominal","scale":{"domain":["Rapamycin"],"range":["#3a3a3a"]},"legend":{"title":null,"orient":"none","legendX":41,"legendY":-47,"labelFontSize":17,"symbolSize":180,"symbolStrokeWidth":2,"rowPadding":3,"labelOffset":6.5,"padding":0}}
    }},
   {"data":{"name":"pts"},"transform":[{"filter":"datum.p=='A3' && datum.s=='DMSO'"}],"mark":{"type":"point","shape":"circle","filled":true,"fill":"white","stroke":"black","size":170,"strokeWidth":2,"opacity":1},"encoding":{}},
   {"data":{"values":[{"x":-9.52,"y":0.538}]},"mark":{"type":"point","shape":"M0,-1C0.088,-1 0.16,-0.552 0.16,0C0.16,0.552 0.088,1 0,1C-0.088,1 -0.16,0.552 -0.16,0C-0.16,-0.552 -0.088,-1 0,-1Z","size":12100,"filled":false,"color":"#f0321e","strokeWidth":1.5,"opacity":1},"encoding":{}},
   {"data":{"values":[{"x":-7.705,"y":0.98,"y2":1.13}]},"mark":{"type":"rule","color":"#f0321e","strokeWidth":1.8},"encoding":{"y2":{"field":"y2"}}},
   {"data":{"values":[{"x":-7.705,"y":1.147}]},"mark":{"type":"point","shape":"M0,0L-0.8,2L0,1.4L0.8,2Z","size":100,"filled":true,"color":"#f0321e","strokeWidth":0,"opacity":1},"encoding":{}},
   {"data":{"values":[{"x":-11.84,"y":0.057}]},"mark":{"type":"point","shape":"M0,0L-2.4,-1.4L-1.7,0L-2.4,1.4Z","size":196,"filled":true,"color":"#f0321e","strokeWidth":0,"opacity":1},"encoding":{}}
  ]},
 {"width":167,"height":253,
  "title":{"text":"Insulin-independent","frame":"group","dx":-3,"offset":8},
  "encoding":{
   "x":{"field":"x","type":"quantitative","scale":{"domain":[-11.16,-7.82],"nice":false,"zero":false},"axis":{"values":[-11,-10,-9,-8],"labelExpr":"'-' + abs(datum.value)","title":"Log [Insulin] M","titlePadding":11}},
   "y":{"field":"y","type":"quantitative","scale":{"domain":[0,1.2],"nice":false,"zero":false},"axis":{"values":[0,0.3,0.6,0.9,1.2],"format":".1f","title":null}}
  },
  "layer":[
   {"data":{"name":"curves"},"transform":[{"filter":"datum.p=='A4' && datum.s!='DMSO'"}],"mark":{"type":"line","strokeWidth":2.2,"strokeDash":[8,5],"interpolate":"monotone"},"encoding":{"detail":{"field":"s"},"color":{"condition":[{"test":"datum.s=='Epinephrine'","value":"#cfcfcf"},{"test":"datum.s=='Metaproterenol'","value":"#a0a0a0"}],"value":"black"}}},
   {"data":{"name":"curves"},"transform":[{"filter":"datum.p=='A4' && datum.s=='DMSO'"}],"mark":{"type":"line","color":"black","strokeWidth":2.2,"interpolate":"monotone"},"encoding":{}},
   {"data":{"name":"pts"},"transform":[{"filter":"datum.p=='A4' && isValid(datum.lo)"}],"mark":{"type":"rule","strokeWidth":1.8},"encoding":{"y":{"field":"lo","type":"quantitative"},"y2":{"field":"hi"},"color":{"condition":{"test":"datum.s=='Metaproterenol' || datum.s=='Epinephrine'","value":"#a0a0a0"},"value":"black"}}},
   {"data":{"name":"pts"},"transform":[{"filter":"datum.p=='A4' && isValid(datum.lo)"}],"mark":{"type":"point","shape":"M-1,0L1,0","size":144,"filled":false,"strokeWidth":1.8,"opacity":1},"encoding":{"y":{"field":"lo","type":"quantitative"},"color":{"condition":{"test":"datum.s=='Metaproterenol' || datum.s=='Epinephrine'","value":"#a0a0a0"},"value":"black"}}},
   {"data":{"name":"pts"},"transform":[{"filter":"datum.p=='A4' && isValid(datum.lo)"}],"mark":{"type":"point","shape":"M-1,0L1,0","size":144,"filled":false,"strokeWidth":1.8,"opacity":1},"encoding":{"y":{"field":"hi","type":"quantitative"},"color":{"condition":{"test":"datum.s=='Metaproterenol' || datum.s=='Epinephrine'","value":"#a0a0a0"},"value":"black"}}},
   {"data":{"name":"pts"},"transform":[{"filter":"datum.p=='A4' && datum.s!='DMSO'"}],"mark":{"type":"point","filled":true,"size":170,"strokeWidth":2,"opacity":1},
    "encoding":{
     "shape":{"field":"s","type":"nominal","scale":{"domain":["Isoproterenol","Metaproterenol","Epinephrine"],"range":["triangle-down","triangle-down","triangle-down"]},"legend":{"title":null,"orient":"none","legendX":16,"legendY":-49,"labelFontSize":17,"symbolSize":170,"symbolStrokeWidth":2,"rowPadding":-1.5,"labelOffset":4.5,"padding":0}},
     "fill":{"field":"s","type":"nominal","scale":{"domain":["Isoproterenol","Metaproterenol","Epinephrine"],"range":["#707070","#b8b8b8","#d2d2d2"]},"legend":{"title":null,"orient":"none","legendX":16,"legendY":-49,"labelFontSize":17,"symbolSize":170,"symbolStrokeWidth":2,"rowPadding":-1.5,"labelOffset":4.5,"padding":0}},
     "stroke":{"field":"s","type":"nominal","scale":{"domain":["Isoproterenol","Metaproterenol","Epinephrine"],"range":["#1a1a1a","#8c8c8c","#d2d2d2"]},"legend":{"title":null,"orient":"none","legendX":16,"legendY":-49,"labelFontSize":17,"symbolSize":170,"symbolStrokeWidth":2,"rowPadding":-1.5,"labelOffset":4.5,"padding":0}}
    }},
   {"data":{"name":"pts"},"transform":[{"filter":"datum.p=='A4' && datum.s=='DMSO'"}],"mark":{"type":"point","shape":"circle","filled":true,"fill":"white","stroke":"black","size":170,"strokeWidth":2,"opacity":1},"encoding":{}},
   {"data":{"values":[{"x":-9.46,"y":0.41}]},"mark":{"type":"point","shape":"M0,-1C0.11,-1 0.2,-0.552 0.2,0C0.2,0.552 0.11,1 0,1C-0.11,1 -0.2,0.552 -0.2,0C-0.2,-0.552 -0.11,-1 0,-1Z","size":8836,"filled":false,"color":"#f0321e","strokeWidth":1.5,"opacity":1},"encoding":{}},
   {"data":{"values":[{"x":-11.34,"y":0.038,"y2":0.12},{"x":-7.7,"y":0.988,"y2":1.14}]},"mark":{"type":"rule","color":"#f0321e","strokeWidth":1.8},"encoding":{"y2":{"field":"y2"}}},
   {"data":{"values":[{"x":-11.34,"y":0.133},{"x":-7.7,"y":1.154}]},"mark":{"type":"point","shape":"M0,0L-0.8,2L0,1.4L0.8,2Z","size":100,"filled":true,"color":"#f0321e","strokeWidth":0,"opacity":1},"encoding":{}}
  ]}
 ]},
{"spacing":48,"bounds":"flush",
 "resolve":{"scale":{"shape":"independent","fill":"independent","stroke":"independent","color":"independent"},"legend":{"shape":"independent","fill":"independent","stroke":"independent","color":"independent"}},
 "hconcat":[
 {"width":135,"height":202,
  "title":{"text":"Very low","subtitle":"(0.003 nM)","orient":"bottom","frame":"group","dx":-2.5,"offset":-44,"subtitlePadding":3},
  "encoding":{"y":{"field":"y","type":"quantitative","scale":{"domain":[0,10],"nice":false,"zero":false},"axis":{"values":[0,1,2,3,4,5,6,7,8,9,10],"labelExpr":"datum.value % 2 === 0 ? datum.label : ''","tickSize":{"condition":{"test":"datum.value % 2 === 0","value":7},"value":4},"title":"Fold-increase","titlePadding":22,"labelPadding":3}}},
  "layer":[
   {"data":{"values":[{"y":1}]},"mark":{"type":"rule","color":"black","strokeWidth":1.8,"strokeDash":[5,4]},"encoding":{}},
   {"data":{"name":"bsum"},"transform":[{"filter":"datum.p=='B1'"}],"mark":{"type":"rule","color":"black","strokeWidth":1.8},"encoding":{"x":{"field":"x","type":"quantitative","scale":{"domain":[0.5,5.5],"nice":false,"zero":false},"axis":{"values":[1,2,3,4,5],"labels":false,"title":null,"tickSize":6}},"y":{"field":"lo","type":"quantitative"},"y2":{"field":"hi"}}},
   {"data":{"name":"bpts"},"transform":[{"filter":"datum.p=='B1'"}],"mark":{"type":"point","filled":true,"size":120,"strokeWidth":1.6,"opacity":1},
    "encoding":{"x":{"field":"x","type":"quantitative"},
     "shape":{"field":"grp","type":"nominal","scale":{"domain":["Control (DMSO)","Insulin-Mimetic  (0.6 nM  insulin)","Insulin-Sensitizer (Pioglitazone)","Disinhibitor (Rapamycin)","Insulin-Independent (Isoproterenol)"],"range":["circle","circle","triangle-up","square","triangle-down"]},"legend":null},
     "fill":{"field":"grp","type":"nominal","scale":{"domain":["Control (DMSO)","Insulin-Mimetic  (0.6 nM  insulin)","Insulin-Sensitizer (Pioglitazone)","Disinhibitor (Rapamycin)","Insulin-Independent (Isoproterenol)"],"range":["white","#9a9a9a","#b4b4b4","#9a9a9a","#d2d2d2"]},"legend":null},
     "stroke":{"field":"grp","type":"nominal","scale":{"domain":["Control (DMSO)","Insulin-Mimetic  (0.6 nM  insulin)","Insulin-Sensitizer (Pioglitazone)","Disinhibitor (Rapamycin)","Insulin-Independent (Isoproterenol)"],"range":["black","#333333","#111111","#333333","#111111"]},"legend":null}}},
   {"data":{"name":"bsum"},"transform":[{"filter":"datum.p=='B1'"}],"mark":{"type":"point","shape":"M-1,0L1,0","size":441,"filled":false,"color":"black","strokeWidth":2.2,"opacity":1},"encoding":{"x":{"field":"x","type":"quantitative"},"y":{"field":"mean","type":"quantitative"}}},
   {"data":{"name":"bsum"},"transform":[{"filter":"datum.p=='B1'"}],"mark":{"type":"point","shape":"M-1,0L1,0","size":169,"filled":false,"color":"black","strokeWidth":1.8,"opacity":1},"encoding":{"x":{"field":"x","type":"quantitative"},"y":{"field":"lo","type":"quantitative"}}},
   {"data":{"name":"bsum"},"transform":[{"filter":"datum.p=='B1'"}],"mark":{"type":"point","shape":"M-1,0L1,0","size":169,"filled":false,"color":"black","strokeWidth":1.8,"opacity":1},"encoding":{"x":{"field":"x","type":"quantitative"},"y":{"field":"hi","type":"quantitative"}}},
   {"data":{"name":"barrows"},"transform":[{"filter":"datum.p=='B1'"}],"mark":{"type":"rule","color":"#f0321e","strokeWidth":2},"encoding":{"x":{"field":"x","type":"quantitative"},"y2":{"field":"y2"}}},
   {"data":{"name":"barrows"},"transform":[{"filter":"datum.p=='B1'"}],"mark":{"type":"point","shape":"M0,0L-0.8,2L0,1.4L0.8,2Z","size":110,"filled":true,"color":"#f0321e","strokeWidth":0,"opacity":1},"encoding":{"x":{"field":"x","type":"quantitative"},"y":{"field":"y2","type":"quantitative"}}},
   {"data":{"values":[{"x":0.2,"y":0.94}]},"mark":{"type":"point","shape":"M0,0L-2.4,-1.4L-1.7,0L-2.4,1.4Z","size":196,"filled":true,"color":"#f0321e","strokeWidth":0,"opacity":1},"encoding":{"x":{"field":"x","type":"quantitative"}}},
   {"data":{"values":[{"x":-1.9,"y":10.2,"t":"B."}]},"mark":{"type":"text","fontSize":26,"fontWeight":"bold","align":"left","baseline":"alphabetic","color":"black"},"encoding":{"x":{"field":"x","type":"quantitative"},"text":{"field":"t"}}},
   {"data":{"values":[{"x":0.8,"y":-2.8,"t":"[Insulin]:"}]},"mark":{"type":"text","fontSize":21,"fontWeight":"bold","align":"right","baseline":"alphabetic","color":"black"},"encoding":{"x":{"field":"x","type":"quantitative"},"text":{"field":"t"}}}
  ]},
 {"width":135,"height":202,
  "title":{"text":"Submaximal","subtitle":"(0.3 nM)","orient":"bottom","frame":"group","dx":5.5,"offset":12,"subtitlePadding":3},
  "encoding":{"y":{"field":"y","type":"quantitative","scale":{"domain":[0,2.5],"nice":false,"zero":false},"axis":{"values":[0,0.25,0.5,0.75,1,1.25,1.5,1.75,2,2.25,2.5],"format":".1f","labelExpr":"round(datum.value*100) % 50 === 0 ? datum.label : ''","tickSize":{"condition":{"test":"round(datum.value*100) % 50 === 0","value":7},"value":4},"title":null,"labelPadding":3}}},
  "layer":[
   {"data":{"values":[{"y":1}]},"mark":{"type":"rule","color":"black","strokeWidth":1.8,"strokeDash":[5,4]},"encoding":{}},
   {"data":{"name":"bsum"},"transform":[{"filter":"datum.p=='B2'"}],"mark":{"type":"rule","color":"black","strokeWidth":1.8},"encoding":{"x":{"field":"x","type":"quantitative","scale":{"domain":[0.5,5.5],"nice":false,"zero":false},"axis":{"values":[1,2,3,4,5],"labels":false,"title":null,"tickSize":6}},"y":{"field":"lo","type":"quantitative"},"y2":{"field":"hi"}}},
   {"data":{"name":"bpts"},"transform":[{"filter":"datum.p=='B2'"}],"mark":{"type":"point","filled":true,"size":120,"strokeWidth":1.6,"opacity":1},
    "encoding":{"x":{"field":"x","type":"quantitative"},
     "shape":{"field":"grp","type":"nominal","scale":{"domain":["Control (DMSO)","Insulin-Mimetic  (0.6 nM  insulin)","Insulin-Sensitizer (Pioglitazone)","Disinhibitor (Rapamycin)","Insulin-Independent (Isoproterenol)"],"range":["circle","circle","triangle-up","square","triangle-down"]},"legend":null},
     "fill":{"field":"grp","type":"nominal","scale":{"domain":["Control (DMSO)","Insulin-Mimetic  (0.6 nM  insulin)","Insulin-Sensitizer (Pioglitazone)","Disinhibitor (Rapamycin)","Insulin-Independent (Isoproterenol)"],"range":["white","#9a9a9a","#b4b4b4","#9a9a9a","#d2d2d2"]},"legend":null},
     "stroke":{"field":"grp","type":"nominal","scale":{"domain":["Control (DMSO)","Insulin-Mimetic  (0.6 nM  insulin)","Insulin-Sensitizer (Pioglitazone)","Disinhibitor (Rapamycin)","Insulin-Independent (Isoproterenol)"],"range":["black","#333333","#111111","#333333","#111111"]},"legend":null}}},
   {"data":{"name":"bsum"},"transform":[{"filter":"datum.p=='B2'"}],"mark":{"type":"point","shape":"M-1,0L1,0","size":441,"filled":false,"color":"black","strokeWidth":2.2,"opacity":1},"encoding":{"x":{"field":"x","type":"quantitative"},"y":{"field":"mean","type":"quantitative"}}},
   {"data":{"name":"bsum"},"transform":[{"filter":"datum.p=='B2'"}],"mark":{"type":"point","shape":"M-1,0L1,0","size":169,"filled":false,"color":"black","strokeWidth":1.8,"opacity":1},"encoding":{"x":{"field":"x","type":"quantitative"},"y":{"field":"lo","type":"quantitative"}}},
   {"data":{"name":"bsum"},"transform":[{"filter":"datum.p=='B2'"}],"mark":{"type":"point","shape":"M-1,0L1,0","size":169,"filled":false,"color":"black","strokeWidth":1.8,"opacity":1},"encoding":{"x":{"field":"x","type":"quantitative"},"y":{"field":"hi","type":"quantitative"}}},
   {"data":{"name":"barrows"},"transform":[{"filter":"datum.p=='B2'"}],"mark":{"type":"rule","color":"#f0321e","strokeWidth":2},"encoding":{"x":{"field":"x","type":"quantitative"},"y2":{"field":"y2"}}},
   {"data":{"name":"barrows"},"transform":[{"filter":"datum.p=='B2'"}],"mark":{"type":"point","shape":"M0,0L-0.8,2L0,1.4L0.8,2Z","size":110,"filled":true,"color":"#f0321e","strokeWidth":0,"opacity":1},"encoding":{"x":{"field":"x","type":"quantitative"},"y":{"field":"y2","type":"quantitative"}}},
   {"data":{"values":[{"x":3.4,"y":1.96}]},"mark":{"type":"point","shape":"M0,-1C0.508,-1 0.92,-0.552 0.92,0C0.92,0.552 0.508,1 0,1C-0.508,1 -0.92,0.552 -0.92,0C-0.92,-0.552 -0.508,-1 0,-1Z","size":15129,"filled":false,"color":"#f0321e","strokeWidth":1.5,"opacity":1},"encoding":{"x":{"field":"x","type":"quantitative"}}}
  ]},
 {"width":135,"height":202,
  "title":{"text":"Saturating","subtitle":"(100 nM)","orient":"bottom","frame":"group","dx":12,"offset":12,"subtitlePadding":3},
  "encoding":{"y":{"field":"y","type":"quantitative","scale":{"domain":[0,1.31],"nice":false,"zero":false},"axis":{"values":[0,0.15,0.3,0.45,0.6,0.75,0.9,1.05,1.2],"format":".1f","labelExpr":"round(datum.value*100) % 30 === 0 ? datum.label : ''","tickSize":{"condition":{"test":"round(datum.value*100) % 30 === 0","value":7},"value":4},"title":null,"labelPadding":3}}},
  "layer":[
   {"data":{"values":[{"y":1}]},"mark":{"type":"rule","color":"black","strokeWidth":1.8,"strokeDash":[5,4]},"encoding":{}},
   {"data":{"name":"bsum"},"transform":[{"filter":"datum.p=='B3'"}],"mark":{"type":"rule","color":"black","strokeWidth":1.8},"encoding":{"x":{"field":"x","type":"quantitative","scale":{"domain":[0.5,5.5],"nice":false,"zero":false},"axis":{"values":[1,2,3,4,5],"labels":false,"title":null,"tickSize":6}},"y":{"field":"lo","type":"quantitative"},"y2":{"field":"hi"}}},
   {"data":{"name":"bpts"},"transform":[{"filter":"datum.p=='B3'"}],"mark":{"type":"point","filled":true,"size":120,"strokeWidth":1.6,"opacity":1},
    "encoding":{"x":{"field":"x","type":"quantitative"},
     "shape":{"field":"grp","type":"nominal","scale":{"domain":["Control (DMSO)","Insulin-Mimetic  (0.6 nM  insulin)","Insulin-Sensitizer (Pioglitazone)","Disinhibitor (Rapamycin)","Insulin-Independent (Isoproterenol)"],"range":["circle","circle","triangle-up","square","triangle-down"]},"legend":{"title":null,"orient":"none","legendX":160,"legendY":41,"labelFontSize":16.5,"symbolSize":120,"symbolStrokeWidth":1.8,"rowPadding":1,"labelOffset":16,"padding":0,"labelLimit":400}},
     "fill":{"field":"grp","type":"nominal","scale":{"domain":["Control (DMSO)","Insulin-Mimetic  (0.6 nM  insulin)","Insulin-Sensitizer (Pioglitazone)","Disinhibitor (Rapamycin)","Insulin-Independent (Isoproterenol)"],"range":["white","#9a9a9a","#b4b4b4","#9a9a9a","#d2d2d2"]},"legend":{"title":null,"orient":"none","legendX":160,"legendY":41,"labelFontSize":16.5,"symbolSize":120,"symbolStrokeWidth":1.8,"rowPadding":1,"labelOffset":16,"padding":0,"labelLimit":400}},
     "stroke":{"field":"grp","type":"nominal","scale":{"domain":["Control (DMSO)","Insulin-Mimetic  (0.6 nM  insulin)","Insulin-Sensitizer (Pioglitazone)","Disinhibitor (Rapamycin)","Insulin-Independent (Isoproterenol)"],"range":["black","#333333","#111111","#333333","#111111"]},"legend":{"title":null,"orient":"none","legendX":160,"legendY":41,"labelFontSize":16.5,"symbolSize":120,"symbolStrokeWidth":1.8,"rowPadding":1,"labelOffset":16,"padding":0,"labelLimit":400}}}},
   {"data":{"name":"bsum"},"transform":[{"filter":"datum.p=='B3'"}],"mark":{"type":"point","shape":"M-1,0L1,0","size":441,"filled":false,"color":"black","strokeWidth":2.2,"opacity":1},"encoding":{"x":{"field":"x","type":"quantitative"},"y":{"field":"mean","type":"quantitative"}}},
   {"data":{"name":"bsum"},"transform":[{"filter":"datum.p=='B3'"}],"mark":{"type":"point","shape":"M-1,0L1,0","size":169,"filled":false,"color":"black","strokeWidth":1.8,"opacity":1},"encoding":{"x":{"field":"x","type":"quantitative"},"y":{"field":"lo","type":"quantitative"}}},
   {"data":{"name":"bsum"},"transform":[{"filter":"datum.p=='B3'"}],"mark":{"type":"point","shape":"M-1,0L1,0","size":169,"filled":false,"color":"black","strokeWidth":1.8,"opacity":1},"encoding":{"x":{"field":"x","type":"quantitative"},"y":{"field":"hi","type":"quantitative"}}},
   {"data":{"name":"barrows"},"transform":[{"filter":"datum.p=='B3'"}],"mark":{"type":"rule","color":"#f0321e","strokeWidth":2},"encoding":{"x":{"field":"x","type":"quantitative"},"y2":{"field":"y2"}}},
   {"data":{"name":"barrows"},"transform":[{"filter":"datum.p=='B3'"}],"mark":{"type":"point","shape":"M0,0L-0.8,2L0,1.4L0.8,2Z","size":110,"filled":true,"color":"#f0321e","strokeWidth":0,"opacity":1},"encoding":{"x":{"field":"x","type":"quantitative"},"y":{"field":"y2","type":"quantitative"}}},
   {"data":{"values":[{"x":-0.06,"y":1.0}]},"mark":{"type":"point","shape":"M0,0L-2.4,-1.4L-1.7,0L-2.4,1.4Z","size":196,"filled":true,"color":"#f0321e","strokeWidth":0,"opacity":1},"encoding":{"x":{"field":"x","type":"quantitative"}}}
  ]}
 ]}
]
}
